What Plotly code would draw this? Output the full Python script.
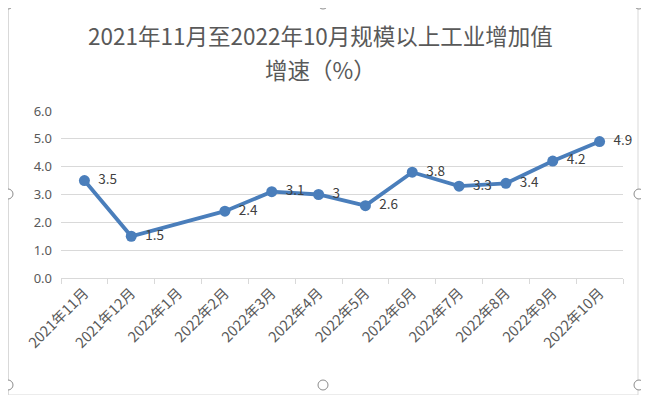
import plotly.graph_objects as go

categories = ["2021年11月", "2021年12月", "2022年1月", "2022年2月", "2022年3月", "2022年4月",
              "2022年5月", "2022年6月", "2022年7月", "2022年8月", "2022年9月", "2022年10月"]
values = [3.5, 1.5, None, 2.4, 3.1, 3.0, 2.6, 3.8, 3.3, 3.4, 4.2, 4.9]
labels = ["3.5", "1.5", "", "2.4", "3.1", "3", "2.6", "3.8", "3.3", "3.4", "4.2", "4.9"]
y_ticks = [0, 1, 2, 3, 4, 5, 6]
title_line1 = "2021年11月至2022年10月规模以上工业增加值"
title_line2 = "增速（%）"

W, H = 649, 395
OFF = 8  # page body margin
# target plot area in screen pixels
SX0, SX1, SY0, SY1 = 61, 623, 111, 278
L = SX0 - OFF
T = SY0 - OFF
PW, PH = SX1 - SX0, SY1 - SY0
R = W - L - PW
B = H - T - PH

def px(x):
    return (x - SX0) / PW

def py(y):
    return (SY1 - y) / PH

FONT = "Noto Sans CJK SC, Noto Sans, sans-serif"
GREY = "#595959"
BLUE = "#4A7EBB"

fig = go.Figure()
fig.add_trace(go.Scatter(
    x=categories, y=values, mode="lines+markers+text",
    text=labels, texttemplate="\u00a0\u00a0%{text}", textposition="middle right",
    textfont=dict(family=FONT, size=13.5, color="#404040"),
    line=dict(color=BLUE, width=3.8),
    marker=dict(color=BLUE, size=11),
    connectgaps=True, cliponaxis=False, hoverinfo="skip",
))

shapes = [dict(type="rect", xref="paper", yref="paper",
               x0=px(8.5), x1=px(638), y0=py(395), y1=py(5),
               line=dict(color="#d9d9d9", width=1), fillcolor="rgba(0,0,0,0)", layer="below")]
for cx, cy in [(8, 4), (323, 4), (639, 4), (8, 194), (639, 194), (8, 385), (323, 385), (639, 385)]:
    shapes.append(dict(type="circle", xref="paper", yref="paper",
                       xsizemode="pixel", ysizemode="pixel",
                       xanchor=px(cx), yanchor=py(cy), x0=-5, x1=5, y0=-5, y1=5,
                       line=dict(color="#8c8c8c", width=1), fillcolor="white"))

annotations = [
    dict(text=title_line1, xref="paper", yref="paper", x=px(320), y=py(35),
         xanchor="center", yanchor="middle", showarrow=False,
         font=dict(family=FONT, size=22.5, color=GREY)),
    dict(text=title_line2, xref="paper", yref="paper", x=px(320), y=py(69),
         xanchor="center", yanchor="middle", showarrow=False,
         font=dict(family=FONT, size=22.5, color=GREY)),
]

fig.update_layout(
    width=W, height=H, margin=dict(l=L, r=R, t=T, b=B, autoexpand=False),
    paper_bgcolor="white", plot_bgcolor="white", showlegend=False,
    shapes=shapes, annotations=annotations,
    xaxis=dict(type="category", range=[-0.5, 11.5], tickangle=-45,
               tickson="boundaries", ticks="outside", ticklen=5, tickcolor="#d9d9d9",
               showline=True, linecolor="#d9d9d9", linewidth=1, showgrid=False,
               tickfont=dict(family=FONT, size=14.5, color=GREY), fixedrange=True),
    yaxis=dict(range=[0, 6], tickvals=y_ticks, tickformat=".1f",
               showgrid=True, gridcolor="#d9d9d9", gridwidth=1, zeroline=False,
               showline=False, ticks="", ticklabelstandoff=8,
               tickfont=dict(family="Noto Sans, sans-serif", size=13, color=GREY), fixedrange=True),
)

fig.write_html("out.html")
